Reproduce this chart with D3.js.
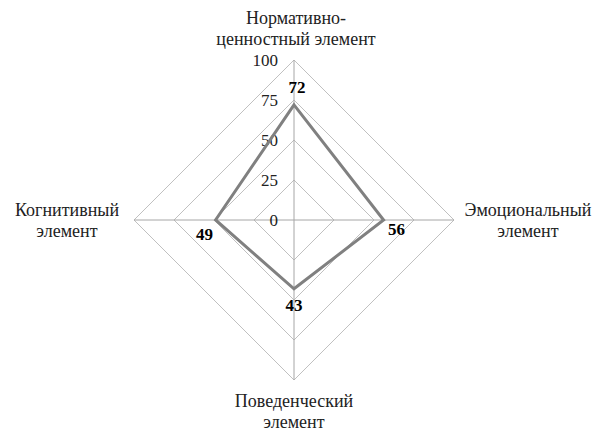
<!DOCTYPE html>
<html>
<head>
<meta charset="utf-8">
<script src="https://cdn.jsdelivr.net/npm/d3@7"></script>
<style>
  html, body { margin: 0; padding: 0; background: #fff; }
  svg { display: block; }
</style>
</head>
<body>
<svg id="chart" width="597" height="431"></svg>
<script>
// Данные
const categories = [
  ["Нормативно-", "ценностный элемент"],
  ["Эмоциональный", "элемент"],
  ["Поведенческий", "элемент"],
  ["Когнитивный", "элемент"]
];
const values = [72, 56, 43, 49];
const ticks = [0, 25, 50, 75, 100];

const svg = d3.select("#chart");
const cx = 294, cy = 220;
const FONT = "Liberation Serif";

const r = d3.scaleLinear().domain([0, 100]).range([0, 160]);
const angle = i => (i / categories.length) * 2 * Math.PI; // 0 = вверх, по часовой
const pt = (i, v) => [cx + r(v) * Math.sin(angle(i)), cy - r(v) * Math.cos(angle(i))];

// Сетка
const g = svg.append("g");
g.selectAll("polygon.grid")
  .data(ticks.filter(t => t > 0))
  .join("polygon")
  .attr("class", "grid")
  .attr("points", t => categories.map((c, i) => pt(i, t).join(",")).join(" "))
  .attr("fill", "none")
  .attr("stroke", "#c0c0c0")
  .attr("stroke-width", 1);

// Оси
g.selectAll("line.spoke")
  .data(categories)
  .join("line")
  .attr("class", "spoke")
  .attr("x1", cx).attr("y1", cy)
  .attr("x2", (d, i) => pt(i, 100)[0])
  .attr("y2", (d, i) => pt(i, 100)[1])
  .attr("stroke", "#a6a6a6")
  .attr("stroke-width", 1);

// Подписи шкалы
g.selectAll("text.tick")
  .data(ticks)
  .join("text")
  .attr("class", "tick")
  .attr("x", cx - 16)
  .attr("y", t => cy - r(t) + 6)
  .attr("text-anchor", "end")
  .attr("font-family", FONT)
  .attr("font-size", 17)
  .attr("fill", "#222")
  .text(t => t);

// Линия ряда
const line = d3.line().curve(d3.curveLinearClosed);
svg.append("path")
  .attr("d", line(values.map((v, i) => pt(i, v))))
  .attr("fill", "none")
  .attr("stroke", "#808080")
  .attr("stroke-width", 3)
  .attr("stroke-linejoin", "miter");

// Подписи значений
const labelOffset = [[3, -12], [13, 15], [0, 22], [-11, 20]];
svg.selectAll("text.val")
  .data(values)
  .join("text")
  .attr("class", "val")
  .attr("x", (v, i) => pt(i, v)[0] + labelOffset[i][0])
  .attr("y", (v, i) => pt(i, v)[1] + labelOffset[i][1])
  .attr("text-anchor", "middle")
  .attr("font-family", FONT)
  .attr("font-size", 17)
  .attr("font-weight", "bold")
  .attr("fill", "#000")
  .text(v => v);

// Подписи категорий
const catPos = [[296, 24], [528, 216], [294, 407], [67, 216]];
const cat = svg.selectAll("text.cat")
  .data(categories)
  .join("text")
  .attr("class", "cat")
  .attr("text-anchor", "middle")
  .attr("font-family", FONT)
  .attr("font-size", 18)
  .attr("fill", "#222");
cat.selectAll("tspan")
  .data((d, i) => d.map((s, k) => ({ s, k, i })))
  .join("tspan")
  .attr("x", d => catPos[d.i][0])
  .attr("y", d => catPos[d.i][1] + d.k * 21)
  .text(d => d.s);
</script>
</body>
</html>
